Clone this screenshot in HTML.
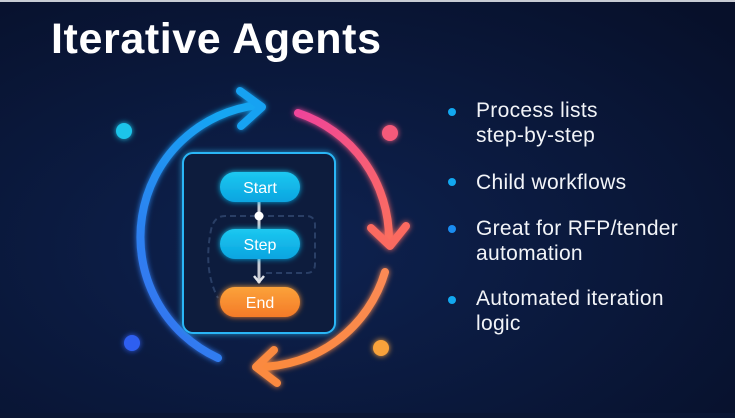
<!DOCTYPE html>
<html><head><meta charset="utf-8"><style>
html,body{margin:0;padding:0}
body{width:735px;height:413px;overflow:hidden;background:#0a1634;font-family:"Liberation Sans",sans-serif}
</style></head><body>
<svg width="735" height="413" viewBox="0 0 735 413" xmlns="http://www.w3.org/2000/svg">
<defs>
<radialGradient id="bg" cx="0.4" cy="0.6" r="0.8">
<stop offset="0" stop-color="#0e2250"/><stop offset="1" stop-color="#07102a"/></radialGradient>
<linearGradient id="gb" x1="0" y1="1" x2="0.6" y2="0"><stop offset="0" stop-color="#3a6cf0"/><stop offset="1" stop-color="#16a6f2"/></linearGradient>
<linearGradient id="gp" x1="0" y1="0" x2="1" y2="1"><stop offset="0" stop-color="#f0449a"/><stop offset="1" stop-color="#fb6e5e"/></linearGradient>
<linearGradient id="go" x1="1" y1="0" x2="0" y2="1"><stop offset="0" stop-color="#fb8a55"/><stop offset="1" stop-color="#fb8a3c"/></linearGradient>
<linearGradient id="gs" x1="0" y1="0" x2="0" y2="1"><stop offset="0" stop-color="#1cc8f0"/><stop offset="1" stop-color="#0aa4e0"/></linearGradient>
<linearGradient id="ge" x1="0" y1="0" x2="0" y2="1"><stop offset="0" stop-color="#fba23a"/><stop offset="1" stop-color="#f47a28"/></linearGradient>
<filter id="gl" x="-20%" y="-20%" width="140%" height="140%"><feGaussianBlur stdDeviation="3" result="b"/><feMerge><feMergeNode in="b"/><feMergeNode in="SourceGraphic"/></feMerge></filter>
</defs>
<rect width="735" height="413" fill="url(#bg)"/>
<rect x="0" y="0" width="735" height="2" fill="#c8ccd4"/>
<text x="51" y="53" font-size="43" font-weight="bold" fill="#fff" letter-spacing="0.6">Iterative Agents</text>

<g fill="none" stroke-width="8" stroke-linecap="round" stroke-linejoin="round" filter="url(#gl)">
<path d="M218 358 A133 133 0 0 1 258 105" stroke="url(#gb)"/>
<polyline points="240,91 262,107 241,126" stroke="#18a2f2"/>
<path d="M298 113 A133 133 0 0 1 389 240" stroke="url(#gp)"/>
<polyline points="371,228 390,246 406,226" stroke="#fb6a60"/>
<path d="M385 272 A133 133 0 0 1 258 367" stroke="url(#go)"/>
<polyline points="274,350 256,367 277,383" stroke="#fb8a40"/>
</g>
<g filter="url(#gl)">
<circle cx="124" cy="131" r="8" fill="#1ec4ea"/>
<circle cx="390" cy="133" r="8" fill="#f55a7a"/>
<circle cx="132" cy="343" r="8" fill="#2f5ef0"/>
<circle cx="381" cy="348" r="8" fill="#f9a23a"/>
</g>
<rect x="183" y="153" width="152" height="180" rx="10" fill="#0b1a3e" stroke="#29b6f6" stroke-width="2" filter="url(#gl)"/>
<path d="M258 216 H306 Q315 216 315 225 V264 Q315 273 306 273 H262" fill="none" stroke="#2a3f66" stroke-width="2" stroke-dasharray="6,4"/>
<path d="M256 216 H225 Q214 216 211 230 Q203 270 218 298" fill="none" stroke="#2a3f66" stroke-width="2" stroke-dasharray="6,4"/>
<line x1="259" y1="202" x2="259" y2="283" stroke="#c8ccd4" stroke-width="3"/>
<polyline points="254,276 259,282 264,276" fill="none" stroke="#e0e4ea" stroke-width="2.5"/>
<circle cx="259" cy="216" r="4.5" fill="#fff"/>
<rect x="220" y="172" width="80" height="30" rx="15" fill="url(#gs)" filter="url(#gl)"/>
<rect x="220" y="229" width="80" height="30" rx="15" fill="url(#gs)" filter="url(#gl)"/>
<rect x="220" y="287" width="80" height="30" rx="15" fill="url(#ge)" filter="url(#gl)"/>
<g font-size="16" fill="#fff" text-anchor="middle">
<text x="260" y="193">Start</text>
<text x="260" y="250">Step</text>
<text x="260" y="308">End</text>
</g>
<g fill="#12a8f0">
<circle cx="452" cy="112" r="4"/><circle cx="452" cy="182" r="4"/>
<circle cx="452" cy="229" r="4" fill="#1a8cf0"/><circle cx="452" cy="300" r="4"/>
</g>
<g font-size="21" fill="#f2f4f8" letter-spacing="0.3">
<text x="476" y="117">Process lists</text>
<text x="476" y="142">step-by-step</text>
<text x="476" y="189">Child workflows</text>
<text x="476" y="235">Great for RFP/tender</text>
<text x="476" y="260">automation</text>
<text x="476" y="305">Automated iteration</text>
<text x="476" y="330">logic</text>
</g>
</svg>
</body></html>
